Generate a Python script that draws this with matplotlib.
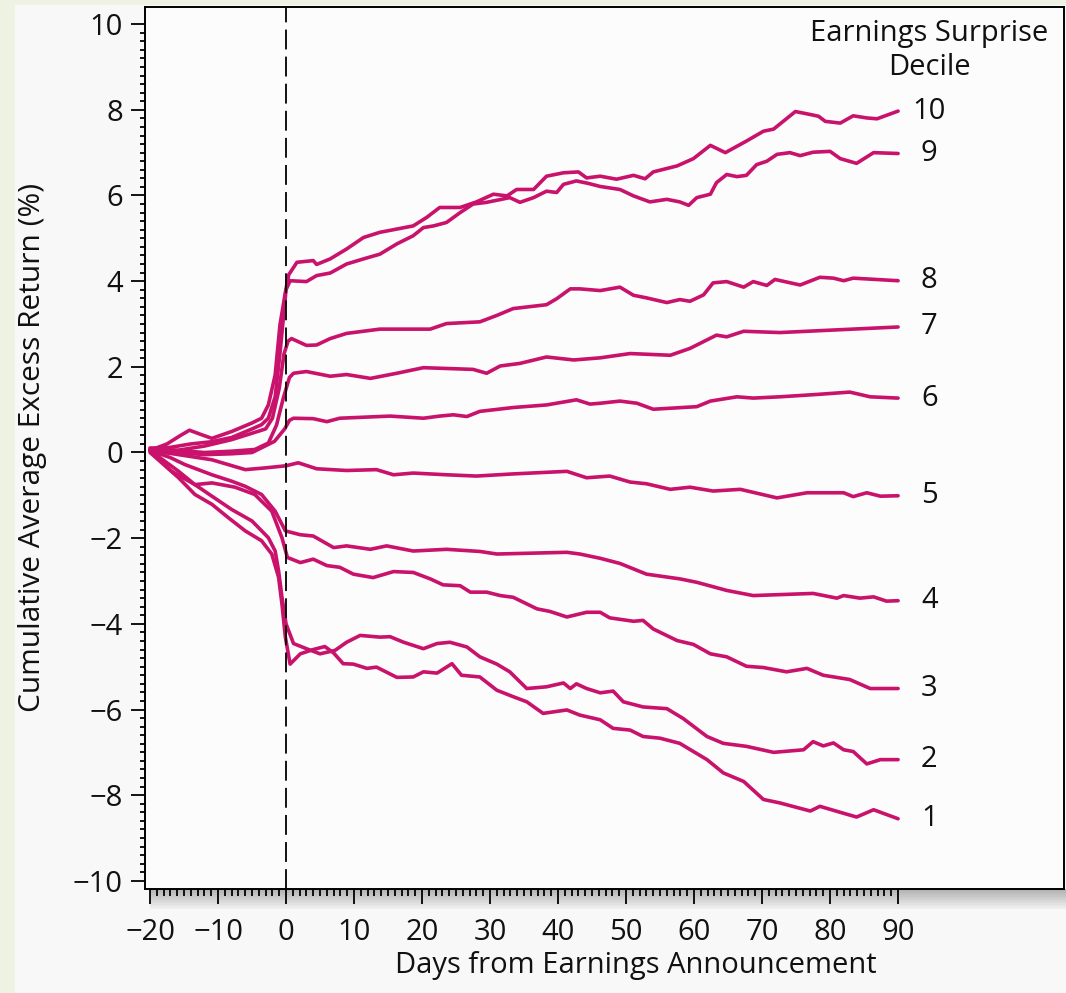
import matplotlib
matplotlib.use("Agg")
import matplotlib.pyplot as plt
from matplotlib.patches import Rectangle

plt.rcParams['font.family'] = ['Open Sans', 'DejaVu Sans']

# cumulative average excess return (%) per earnings-surprise decile
days_10 = [-20, -17.5, -15.5, -14.2, -12.5, -10.9, -8, -5, -3.6, -2.6, -1.6, -0.9, -0.1, 0.4, 1.6, 4.0, 4.5, 6.5, 8.9, 11.4,
           13.8, 18.7, 20.7, 22.6, 25.6, 28.0, 30.5, 32.5, 33.9, 36.4, 38.3, 40.8, 43.0, 44.2, 46.2, 48.6, 51.1, 52.8, 54.0, 57.5,
           59.9, 62.4, 64.6, 67.7, 70.2, 71.7, 74.9, 77.1, 78.3, 79.3, 81.5, 83.4, 85.4, 86.9, 90]
ret_10 = [0.05, 0.2, 0.4, 0.52, 0.42, 0.33, 0.49, 0.69, 0.80, 1.11, 1.81, 2.97, 3.74, 4.15, 4.44, 4.48, 4.39, 4.52, 4.75, 5.02,
          5.14, 5.29, 5.49, 5.72, 5.72, 5.85, 6.03, 5.99, 6.14, 6.14, 6.45, 6.53, 6.55, 6.41, 6.45, 6.38, 6.47, 6.39, 6.55, 6.69,
          6.86, 7.17, 7.00, 7.27, 7.50, 7.55, 7.96, 7.89, 7.85, 7.73, 7.69, 7.86, 7.81, 7.79, 7.97]

days_9 = [-20, -17, -14, -11, -8, -5, -3.6, -2.6, -1.6, -0.9, -0.3, 0.0, 0.6, 3.0, 4.5, 6.5, 8.9, 11.4, 13.8, 16.3,
          18.7, 20.2, 21.7, 23.6, 25.6, 27.5, 29.5, 32.9, 34.4, 36.4, 38.3, 39.8, 40.8, 42.7, 44.5, 46.2, 49.1, 51.1, 53.5, 56.0,
          57.9, 59.2, 60.4, 62.4, 63.3, 64.8, 66.3, 67.7, 69.2, 70.7, 72.2, 74.1, 75.6, 77.5, 80.0, 81.5, 83.9, 86.4, 90]
ret_9 = [0.1, 0.12, 0.2, 0.25, 0.35, 0.55, 0.65, 0.8, 1.3, 2.3, 3.3, 3.8, 4.01, 3.99, 4.13, 4.19, 4.40, 4.52, 4.63, 4.87,
         5.06, 5.25, 5.29, 5.37, 5.60, 5.80, 5.84, 5.95, 5.84, 5.95, 6.10, 6.07, 6.26, 6.34, 6.28, 6.21, 6.14, 5.99, 5.85, 5.91,
         5.85, 5.77, 5.95, 6.03, 6.30, 6.49, 6.44, 6.47, 6.72, 6.80, 6.96, 7.00, 6.93, 7.01, 7.03, 6.86, 6.75, 7.00, 6.98]

days_8 = [-20, -16, -12, -8, -5, -3, -2, -1, -0.3, 0.3, 0.8, 3.0, 4.5, 6.5, 8.9, 13.8, 21.2, 23.6, 28.5, 31.0,
          33.4, 38.3, 39.8, 41.8, 43.2, 46.2, 49.1, 51.1, 53.0, 56.0, 57.9, 59.4, 61.4, 62.8, 64.8, 67.3, 68.7, 70.7, 71.9, 75.6,
          78.5, 80.5, 82.0, 83.4, 90]
ret_8 = [0.05, 0.05, 0.15, 0.3, 0.45, 0.55, 0.8, 1.5, 2.3, 2.6, 2.66, 2.50, 2.51, 2.66, 2.78, 2.88, 2.88, 3.01, 3.05, 3.20,
         3.36, 3.45, 3.59, 3.82, 3.82, 3.78, 3.86, 3.67, 3.61, 3.50, 3.57, 3.53, 3.68, 3.96, 3.99, 3.86, 3.99, 3.90, 4.04, 3.91,
         4.09, 4.07, 4.01, 4.07, 4.01]

days_7 = [-20, -16, -12, -8, -4.6, -2.6, -1.4, -0.4, 0.5, 1.1, 3.0, 6.5, 8.9, 12.4, 16.3, 20.2, 27.5, 29.5, 31.5, 34.4,
          38.3, 42.3, 46.2, 50.6, 56.5, 59.4, 63.3, 64.8, 67.3, 72.6, 90]
ret_7 = [0.1, 0.05, 0.0, 0.03, 0.07, 0.22, 0.64, 1.27, 1.75, 1.85, 1.89, 1.78, 1.82, 1.73, 1.85, 1.98, 1.94, 1.85, 2.02, 2.08,
         2.23, 2.16, 2.21, 2.31, 2.27, 2.43, 2.74, 2.70, 2.83, 2.80, 2.93]

days_6 = [-20, -16, -12, -8, -5, -1.7, -0.2, 0.5, 1.1, 4.0, 6.0, 7.9, 15.3, 20.2, 22.6, 24.6, 26.6, 28.5, 33.4, 38.3,
          42.7, 44.7, 46.2, 49.1, 51.6, 54.0, 60.4, 62.4, 66.3, 68.7, 72.6, 75.6, 78.5, 82.9, 85.9, 90]
ret_6 = [0.05, 0.0, -0.05, -0.03, 0.0, 0.26, 0.55, 0.75, 0.80, 0.79, 0.72, 0.80, 0.85, 0.80, 0.85, 0.88, 0.84, 0.96, 1.05, 1.11,
         1.23, 1.13, 1.15, 1.20, 1.15, 1.01, 1.07, 1.20, 1.30, 1.27, 1.30, 1.33, 1.36, 1.41, 1.30, 1.27]

days_5 = [-20, -15.8, -10.9, -6.0, -3.1, 0.0, 1.8, 4.5, 8.9, 13.3, 15.8, 18.7, 23.6, 28.0, 33.4, 41.3, 44.2, 47.6, 50.6, 53.0,
          56.5, 59.4, 62.8, 66.8, 72.2, 76.6, 82.0, 83.4, 85.4, 87.4, 90]
ret_5 = [0.05, -0.05, -0.17, -0.40, -0.36, -0.31, -0.24, -0.38, -0.42, -0.40, -0.52, -0.48, -0.52, -0.55, -0.50, -0.44, -0.59, -0.55, -0.69, -0.73,
         -0.86, -0.81, -0.90, -0.86, -1.06, -0.94, -0.94, -1.03, -0.94, -1.02, -1.01]

days_4 = [-20, -17, -14.9, -10.9, -8.0, -6.0, -3.6, -1.6, -0.1, 2.1, 4.0, 7.0, 8.9, 12.4, 14.8, 18.7, 23.6, 28.5, 31.0, 41.3,
          43.2, 46.2, 49.1, 53.0, 57.9, 60.4, 64.8, 68.7, 77.5, 81.0, 82.0, 84.4, 86.4, 88.3, 90]
ret_4 = [0.05, -0.12, -0.28, -0.52, -0.67, -0.79, -0.98, -1.37, -1.83, -1.92, -1.95, -2.22, -2.18, -2.26, -2.18, -2.30, -2.26, -2.31, -2.37, -2.33,
         -2.37, -2.47, -2.59, -2.84, -2.95, -3.03, -3.22, -3.34, -3.29, -3.40, -3.34, -3.40, -3.37, -3.47, -3.46]

days_3 = [-20, -15.8, -13.4, -10.9, -7.5, -4.6, -2.1, -0.6, 0.2, 2.1, 4.0, 6.0, 7.9, 9.9, 12.8, 15.8, 18.7, 21.2, 23.1, 25.6,
          27.1, 29.5, 31.5, 33.4, 36.9, 38.8, 41.3, 44.2, 46.2, 47.6, 51.1, 52.5, 54.0, 57.5, 59.9, 62.4, 64.8, 67.7, 70.2, 73.6,
          76.6, 79.0, 82.9, 85.9, 90]
ret_3 = [0.05, -0.44, -0.75, -0.71, -0.81, -0.98, -1.37, -1.99, -2.45, -2.57, -2.49, -2.64, -2.68, -2.84, -2.92, -2.78, -2.80, -2.95, -3.09, -3.11,
         -3.26, -3.26, -3.34, -3.38, -3.65, -3.71, -3.84, -3.73, -3.73, -3.86, -3.94, -3.92, -4.12, -4.39, -4.48, -4.70, -4.77, -4.99, -5.02, -5.12,
         -5.04, -5.20, -5.30, -5.51, -5.51]

days_2 = [-20, -16.8, -13.4, -10.9, -8.0, -5.0, -2.6, -1.6, -1.1, -0.6, 0.0, 1.1, 3.0, 5.0, 7.2, 8.9, 10.9, 13.8, 15.3, 17.3,
          20.2, 22.2, 24.1, 26.6, 28.5, 31.0, 32.9, 35.4, 38.3, 40.8, 41.8, 42.7, 44.2, 46.2, 48.1, 49.6, 52.5, 56.0, 58.4, 61.9,
          64.3, 67.7, 71.7, 76.1, 77.5, 79.0, 80.5, 82.0, 83.4, 85.4, 87.4, 90]
ret_2 = [0.05, -0.44, -0.75, -1.02, -1.33, -1.60, -1.99, -2.30, -2.76, -3.38, -4.0, -4.46, -4.58, -4.70, -4.62, -4.43, -4.27, -4.31, -4.30, -4.43,
         -4.58, -4.46, -4.43, -4.54, -4.77, -4.94, -5.12, -5.51, -5.47, -5.38, -5.51, -5.40, -5.51, -5.61, -5.57, -5.82, -5.94, -5.98, -6.21, -6.63,
         -6.79, -6.86, -7.00, -6.94, -6.75, -6.85, -6.78, -6.94, -6.98, -7.27, -7.17, -7.17]

days_1 = [-20, -15.8, -13.4, -10.9, -8.5, -6.0, -3.6, -2.1, -1.1, -0.6, -0.1, 0.6, 2.1, 4.0, 5.7, 7.0, 8.4, 9.9, 11.9, 13.3,
          16.3, 18.7, 20.2, 22.2, 24.4, 25.8, 28.5, 31.0, 33.4, 35.4, 37.8, 41.3, 43.2, 46.2, 48.1, 50.6, 52.5, 55.0, 57.9, 61.9,
          64.3, 67.3, 70.2, 72.6, 77.1, 78.5, 81.5, 83.9, 86.4, 90]
ret_1 = [0.0, -0.59, -0.98, -1.21, -1.52, -1.83, -2.06, -2.37, -2.91, -3.54, -4.31, -4.94, -4.70, -4.60, -4.53, -4.68, -4.93, -4.94, -5.04, -5.01,
         -5.25, -5.24, -5.12, -5.15, -4.93, -5.20, -5.24, -5.55, -5.70, -5.82, -6.09, -6.01, -6.13, -6.24, -6.44, -6.48, -6.63, -6.67, -6.79, -7.17,
         -7.48, -7.68, -8.10, -8.18, -8.37, -8.26, -8.40, -8.51, -8.34, -8.55]

deciles = ['10', '9', '8', '7', '6', '5', '4', '3', '2', '1']
all_days = [days_10, days_9, days_8, days_7, days_6, days_5, days_4, days_3, days_2, days_1]
all_rets = [ret_10, ret_9, ret_8, ret_7, ret_6, ret_5, ret_4, ret_3, ret_2, ret_1]

x_major = list(range(-20, 91, 10))
x_minor = list(range(-20, 91))
y_major = list(range(-10, 11, 2))
y_minor = [i / 5 for i in range(-50, 51)]

W, H = 1066, 993
line_col = '#c8126c'
fs = 21

fig = plt.figure(figsize=(W / 100, H / 100), dpi=100)
fig.patch.set_facecolor('#eef2e3')
fig.add_artist(Rectangle((15 / W, 0), 1, 1 - 5 / H, transform=fig.transFigure,
                         color='#f8f8f8', zorder=-3))
# drop shadow under the x axis
for i in range(10):
    g = 0.70 + 0.026 * i
    fig.add_artist(Rectangle((150 / W, 1 - (891 + 2 * i) / H), 1, 2 / H,
                             transform=fig.transFigure, color=(g, g, g), zorder=-2, lw=0))

ax = fig.add_axes([145 / W, 1 - 889 / H, (1064 - 145) / W, (889 - 7) / H])
ax.set_facecolor('#fcfcfc')

for d, r in zip(all_days, all_rets):
    ax.plot(d, r, color=line_col, lw=2.6, solid_joinstyle='round', solid_capstyle='round', zorder=2)

ax.axvline(0, color='black', lw=1.3, dashes=(11, 4), zorder=3)

for lab, r in zip(deciles, all_rets):
    ax.text(94.6, r[-1], lab, ha='center', va='center', fontsize=fs, color='#111111')
ax.text(94.6, 9.38, 'Earnings Surprise\nDecile', ha='center', va='center',
        fontsize=fs, color='#111111', linespacing=1.2)

ax.set_xlim(-20.74, 114.4)
ax.set_ylim(-10.19, 10.40)
ax.set_xticks(x_major)
ax.set_xticks(x_minor, minor=True)
ax.set_yticks(y_major)
ax.set_yticks(y_minor, minor=True)
ax.tick_params(axis='both', which='both', direction='out', color='black', width=1.3,
               labelsize=fs, labelcolor='#111111')
ax.tick_params(axis='x', which='major', length=11, pad=10)
ax.tick_params(axis='x', which='minor', length=5)
ax.tick_params(axis='y', which='major', length=10, pad=6)
ax.tick_params(axis='y', which='minor', length=3.6)
for s in ax.spines.values():
    s.set_linewidth(1.4)
    s.set_color('black')

fig.text(636 / W, 1 - 965 / H, 'Days from Earnings Announcement', ha='center', va='center',
         fontsize=fs, color='#111111')
fig.text(33 / W, 1 - 447 / H, 'Cumulative Average Excess Return (%)', ha='center', va='center',
         rotation=90, fontsize=21.5, color='#111111')

fig.savefig('out.png', dpi=100, facecolor=fig.get_facecolor())
